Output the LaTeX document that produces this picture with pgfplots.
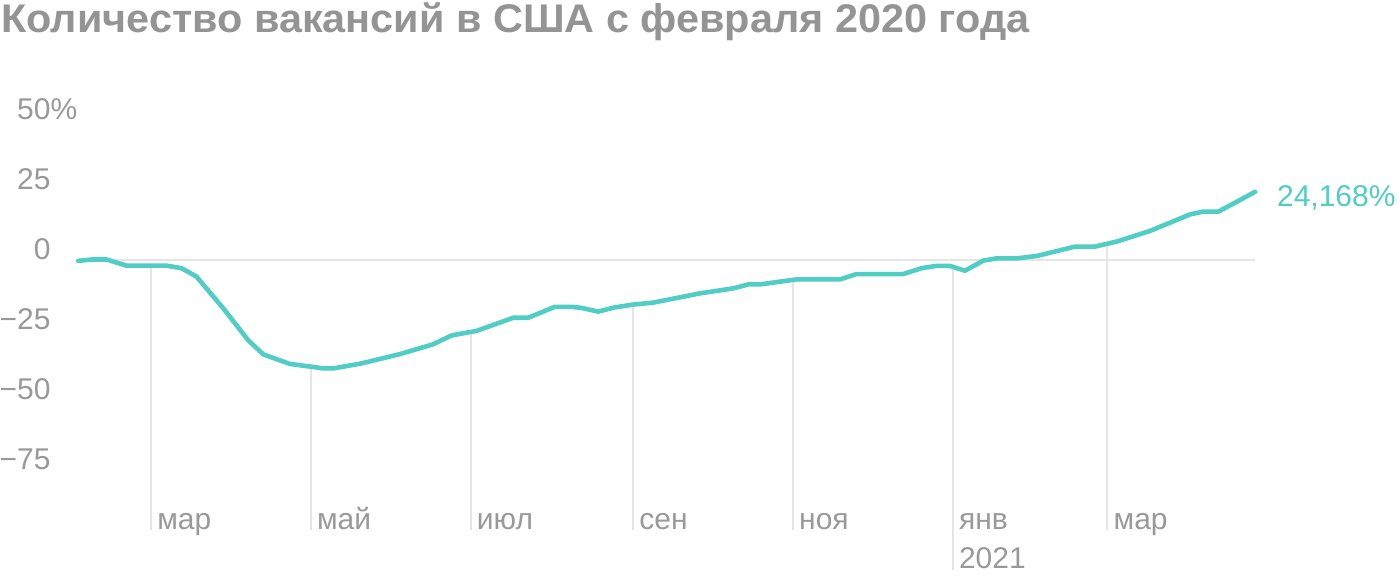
\documentclass[border=0pt]{standalone}
\usepackage{fontspec}
\setmainfont{Liberation Sans}
\newfontfamily\titlefont[FakeStretch=1.035]{Liberation Sans}
\usepackage{pgfplots}
\pgfplotsset{compat=1.18}
\usepackage{pgfplotstable}
\definecolor{teal}{RGB}{80,205,196}
\definecolor{labelgray}{RGB}{153,153,153}
\definecolor{titlegray}{RGB}{148,148,148}
\definecolor{gridgray}{RGB}{229,229,229}
\tikzset{
  lab/.style={font=\fontsize{15}{18}\selectfont, inner sep=0pt},
  ylab/.style={lab, anchor=base east, text=labelgray, xshift=-13.65pt},
  mlab/.style={lab, anchor=base west, text=labelgray, xshift=3pt},
}

\pgfplotstableread{
d v
-27.7 -0.5
-22.6 0
-16.9 0
-9.3 -2.2
6.0 -2.2
11.7 -3.1
17.4 -6.1
27.6 -17.4
37.1 -28.8
42.9 -33.9
53.1 -37.3
61.3 -38.3
65.8 -38.9
69.6 -38.9
80.4 -37.1
95.0 -33.8
107.7 -30.3
114.8 -27.1
124.3 -25.5
138.3 -20.8
144.0 -20.8
154.2 -16.9
160.6 -16.9
164.4 -17.3
170.7 -18.6
177.1 -17.1
184.1 -16.1
191.7 -15.4
209.5 -12.1
222.3 -10.3
228.0 -8.9
232.4 -8.9
246.4 -7.1
263.0 -7.1
269.3 -5.2
287.1 -5.2
294.2 -3.1
299.6 -2.3
305.0 -2.3
310.7 -4.0
317.7 -0.4
322.8 0.4
330.4 0.4
338.1 1.25
345.7 3.0
352.7 4.6
360.3 4.6
368.6 6.4
381.3 10.2
396.6 16.1
401.6 17.1
407.4 17.1
414.4 20.6
421.4 24.168
}\jobs

\begin{document}
\begin{tikzpicture}
\path[use as bounding box] (-39.15pt,-3.45pt) rectangle (660.85pt,286.55pt);
\node[anchor=base west, inner sep=0pt, text=titlegray, font=\titlefont\fontsize{20}{24}\selectfont\bfseries] at (-38.65pt,270.05pt) {Количество вакансий в США с февраля 2020 года};
\begin{axis}[
  at={(0pt,0pt)}, anchor=south west,
  scale only axis, width=588.35pt, height=229.6pt,
  xmin=-27.7, xmax=421.4, ymin=-112, ymax=52,
  axis lines=none, clip=false,
]
% zero gridline
\addplot[gridgray, line width=1pt] coordinates {(-27.7,0) (421.4,0)};
% month drop lines
\addplot[gridgray, line width=1pt] coordinates {(0,-2.2) (0,-96.6)};
\addplot[gridgray, line width=1pt] coordinates {(61,-38.3) (61,-96.6)};
\addplot[gridgray, line width=1pt] coordinates {(122,-25.9) (122,-96.6)};
\addplot[gridgray, line width=1pt] coordinates {(184,-16.1) (184,-96.6)};
\addplot[gridgray, line width=1pt] coordinates {(245,-7.3) (245,-96.6)};
\addplot[gridgray, line width=1pt] coordinates {(306,-2.6) (306,-111)};
\addplot[gridgray, line width=1pt] coordinates {(365,5.6) (365,-96.6)};
% series
\addplot[teal, line width=2.3pt, line join=round, line cap=round] table[x=d, y=v] {\jobs};
% end label
\node[lab, anchor=base west, text=teal, xshift=10.85pt, yshift=-7.1pt] at (axis cs:421.4,24.168) {24,168\%};
% y tick labels
\node[ylab] at (axis cs:-27.7,50) {50\rlap{\%}};
\node[ylab] at (axis cs:-27.7,25) {25};
\node[ylab] at (axis cs:-27.7,0) {0};
\node[ylab] at (axis cs:-27.7,-25) {−25};
\node[ylab] at (axis cs:-27.7,-50) {−50};
\node[ylab] at (axis cs:-27.7,-75) {−75};
% month labels
\node[mlab] at (axis cs:0,-96.4) {мар};
\node[mlab] at (axis cs:61,-96.4) {май};
\node[mlab] at (axis cs:122,-96.4) {июл};
\node[mlab] at (axis cs:184,-96.4) {сен};
\node[mlab] at (axis cs:245,-96.4) {ноя};
\node[mlab] at (axis cs:306,-96.4) {янв};
\node[mlab] at (axis cs:306,-110.2) {2021};
\node[mlab] at (axis cs:365,-96.4) {мар};
\end{axis}
\end{tikzpicture}
\end{document}
